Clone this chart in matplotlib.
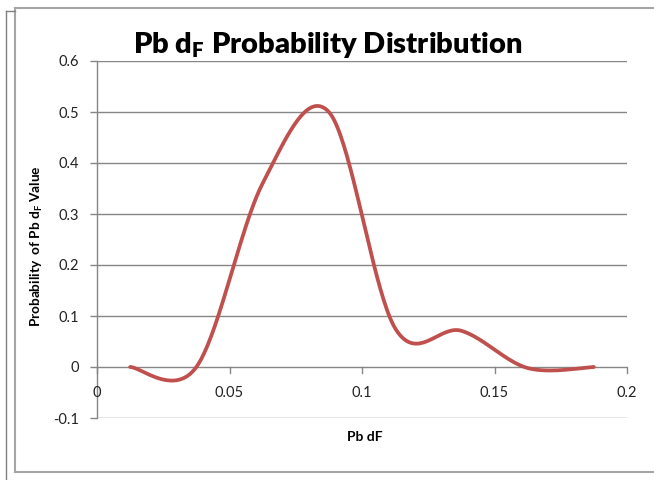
import numpy as np
import matplotlib
matplotlib.use("Agg")
import matplotlib.pyplot as plt
from matplotlib.lines import Line2D

# Probability distribution of Pb dF
pb_df = [0.0125, 0.0375, 0.0625, 0.0875, 0.1125, 0.1375, 0.1625, 0.1875]
probability = [0.0, 0.0, 0.36, 0.50, 0.076, 0.071, -0.002, 0.0]

x_ticks = [0, 0.05, 0.1, 0.15, 0.2]
x_tick_labels = ["0", "0.05", "0.1", "0.15", "0.2"]
y_ticks = [-0.1, 0, 0.1, 0.2, 0.3, 0.4, 0.5, 0.6]
y_tick_labels = ["-0.1", "0", "0.1", "0.2", "0.3", "0.4", "0.5", "0.6"]


def smooth(xs, ys, n=40):
    """Smoothed line through the points (Bezier segments, Catmull-Rom tangents)."""
    p = np.column_stack([xs, ys]).astype(float)
    p = np.vstack([p[0], p, p[-1]])
    out = []
    t = np.linspace(0, 1, n, endpoint=False)[:, None]
    for i in range(1, len(p) - 2):
        p0, p1, p2, p3 = p[i - 1], p[i], p[i + 1], p[i + 2]
        c1 = p1 + (p2 - p0) / 6.0
        c2 = p2 - (p3 - p1) / 6.0
        seg = ((1 - t) ** 3) * p1 + 3 * ((1 - t) ** 2) * t * c1 \
            + 3 * (1 - t) * t ** 2 * c2 + t ** 3 * p2
        out.append(seg)
    out.append(p[-2][None, :])
    out = np.vstack(out)
    return out[:, 0], out[:, 1]


plt.rcParams['font.family'] = ['Lato', 'DejaVu Sans']

fig = plt.figure(figsize=(6.54, 4.8), dpi=100)
fig.patch.set_facecolor("white")

# chart frame
W, H = 654.0, 480.0
frame_color = "#a6a6a6"
fig.add_artist(Line2D([15 / W, 1.0], [1 - 8 / H, 1 - 8 / H], color=frame_color, lw=1.5))
fig.add_artist(Line2D([15 / W, 15 / W], [1 - 8 / H, 1 - 472 / H], color=frame_color, lw=1.5))
fig.add_artist(Line2D([15 / W, 1.0], [1 - 472 / H, 1 - 472 / H], color=frame_color, lw=1.5))
fig.add_artist(Line2D([6 / W, 6 / W], [1 - 11 / H, 0.0], color="#808080", lw=1.0))
fig.add_artist(Line2D([6 / W, 15 / W], [1 - 11 / H, 1 - 11 / H], color="#808080", lw=1.0))

ax = fig.add_axes([97 / W, 1 - 418 / H, (627 - 97) / W, (418 - 61) / H])
ax.set_xlim(0, 0.2)
ax.set_ylim(-0.1, 0.6)

grid_color = "#868686"
for y in y_ticks:
    ax.axhline(y, color=grid_color, lw=1.0, zorder=1)

for s in ["top", "right", "bottom"]:
    ax.spines[s].set_visible(False)
ax.spines["left"].set_color(grid_color)
ax.spines["left"].set_linewidth(1.0)

ax.set_yticks(y_ticks)
ax.set_yticklabels(y_tick_labels)
ax.tick_params(axis="y", direction="out", length=5, color=grid_color, width=1.0,
               labelsize=10.5, pad=8, labelcolor="#222222")

# x axis crosses at y = 0 with ticks hanging below it
ax.set_xticks([])
for xv, lab in zip(x_ticks, x_tick_labels):
    ax.plot([xv, xv], [0, -0.011], color=grid_color, lw=1.0, zorder=1,
            clip_on=False)
    ax.text(xv, -0.051, lab, ha="center", va="center", fontsize=10.5,
            color="#222222")

sx, sy = smooth(pb_df, probability)
ax.plot(sx, sy, color="#C0504D", lw=2.7, solid_capstyle="round", zorder=3)

fig.text(328 / W, 1 - 45 / H, r"Pb d$_\mathregular{F}$ Probability Distribution",
         ha="center", va="center", fontsize=21, fontweight="heavy")
fig.text(365 / W, 1 - 437 / H, "Pb dF", ha="center", va="center",
         fontsize=10, fontweight="bold")
fig.text(37 / W, 1 - 246 / H, r"Probability  of Pb d$_\mathregular{F}$ Value",
         ha="center", va="center", rotation=90, fontsize=9.8, fontweight="bold")

fig.savefig("out.png", dpi=100, facecolor="white")
